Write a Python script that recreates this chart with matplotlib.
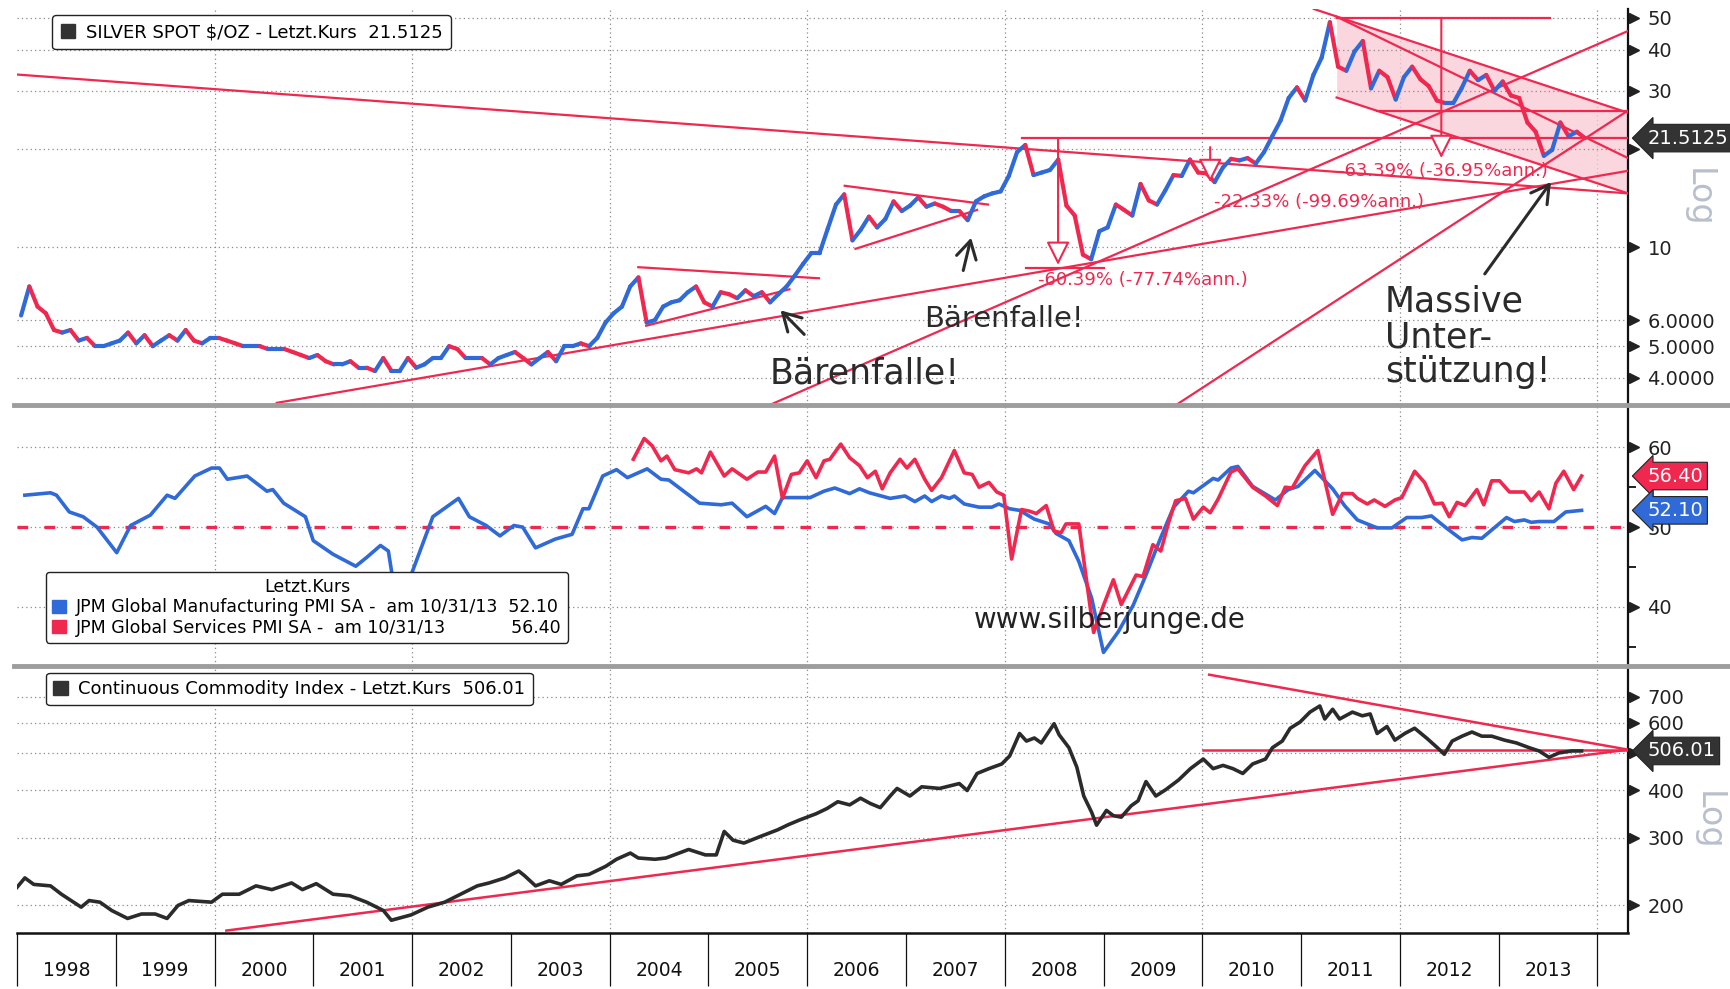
import numpy as np
import matplotlib.pyplot as plt
from matplotlib.collections import LineCollection
from matplotlib.lines import Line2D
from matplotlib.patches import Patch
from matplotlib.ticker import FixedLocator, FixedFormatter, NullLocator

RED = "#f0284f"
BLUE = "#2f6ad8"
DARK = "#2b2b2b"
GRID = "#8a8a8a"
PINK = "#f9c9d3"

# Silber Spot $/oz, Monatswerte 1998-01 .. 2013-11
silver = [
    6.2, 7.6, 6.6, 6.3, 5.6, 5.5, 5.6, 5.2, 5.3, 5.0, 5.0, 5.1,        # 1998
    5.2, 5.5, 5.1, 5.4, 5.0, 5.2, 5.4, 5.2, 5.6, 5.2, 5.1, 5.3,        # 1999
    5.3, 5.2, 5.1, 5.0, 5.0, 5.0, 4.9, 4.9, 4.9, 4.8, 4.7, 4.6,        # 2000
    4.7, 4.5, 4.4, 4.4, 4.5, 4.3, 4.3, 4.2, 4.6, 4.2, 4.2, 4.6,        # 2001
    4.3, 4.4, 4.6, 4.6, 5.0, 4.9, 4.6, 4.6, 4.6, 4.4, 4.6, 4.7,        # 2002
    4.8, 4.6, 4.4, 4.6, 4.8, 4.5, 5.0, 5.0, 5.1, 5.0, 5.3, 5.9,        # 2003
    6.3, 6.6, 7.6, 8.1, 5.9, 6.0, 6.6, 6.8, 6.9, 7.3, 7.6, 6.8,        # 2004
    6.6, 7.3, 7.2, 7.0, 7.4, 7.1, 7.3, 6.8, 7.2, 7.6, 8.2, 8.9,        # 2005
    9.6, 9.6, 11.4, 13.5, 14.5, 10.5, 11.3, 12.4, 11.5, 12.2, 13.8, 12.9,  # 2006
    13.4, 14.2, 13.3, 13.6, 13.3, 12.9, 12.9, 12.1, 13.8, 14.3, 14.6, 14.8,  # 2007
    16.5, 19.5, 20.5, 16.6, 16.9, 17.2, 18.5, 13.4, 12.5, 9.5, 9.2, 11.2,   # 2008
    11.5, 13.5, 13.0, 12.5, 15.6, 13.9, 13.5, 14.9, 16.6, 16.5, 18.5, 16.9,  # 2009
    16.8, 15.8, 17.5, 18.6, 18.4, 18.7, 18.0, 19.5, 21.8, 24.3, 28.5, 30.7,  # 2010
    28.0, 33.5, 37.8, 48.5, 35.5, 34.5, 39.5, 42.5, 30.5, 34.5, 33.0, 28.2,  # 2011
    33.0, 35.5, 32.5, 31.0, 28.0, 27.5, 27.5, 30.5, 34.5, 32.3, 33.5, 30.0,  # 2012
    32.0, 29.0, 28.5, 24.0, 22.5, 19.0, 19.8, 24.0, 21.8, 22.5, 21.5,        # 2013
]

# JPM Global PMI (Jahr, Wert)
mfg_pmi = [
    (1998.08, 54.0), (1998.34, 54.3), (1998.40, 54.0), (1998.53, 51.9), (1998.67, 51.3),
    (1998.81, 50.0), (1999.01, 46.8), (1999.15, 50.2), (1999.35, 51.5), (1999.52, 54.0),
    (1999.60, 53.6), (1999.80, 56.4), (1999.97, 57.4), (2000.05, 57.4), (2000.13, 56.0),
    (2000.33, 56.4), (2000.53, 54.5), (2000.59, 54.7), (2000.70, 53.0), (2000.92, 51.3),
    (2001.00, 48.3), (2001.20, 46.6), (2001.43, 45.1), (2001.54, 46.2), (2001.68, 47.7),
    (2001.76, 47.0), (2001.83, 41.5), (2001.99, 44.0), (2002.21, 51.3), (2002.47, 53.6),
    (2002.58, 51.3), (2002.75, 50.2), (2002.89, 48.9), (2003.03, 50.2), (2003.12, 50.0),
    (2003.25, 47.4), (2003.45, 48.5), (2003.62, 49.1), (2003.73, 52.3), (2003.79, 52.3),
    (2003.93, 56.4), (2004.07, 57.2), (2004.18, 56.2), (2004.38, 57.3), (2004.52, 56.0),
    (2004.60, 55.9), (2004.91, 53.0), (2005.13, 52.8), (2005.24, 53.0), (2005.39, 51.3),
    (2005.58, 52.6), (2005.67, 51.7), (2005.75, 53.7), (2006.03, 53.7), (2006.17, 54.5),
    (2006.28, 54.9), (2006.43, 54.2), (2006.53, 54.8), (2006.63, 54.3), (2006.84, 53.6),
    (2006.99, 53.9), (2007.09, 53.2), (2007.19, 53.9), (2007.26, 53.2), (2007.36, 53.9),
    (2007.44, 53.6), (2007.49, 53.9), (2007.59, 52.9), (2007.74, 52.5), (2007.87, 52.5),
    (2007.94, 52.9), (2008.05, 52.3), (2008.15, 52.1), (2008.30, 51.0), (2008.45, 50.4),
    (2008.52, 49.2), (2008.65, 48.3), (2008.75, 45.7), (2008.88, 41.1), (2009.00, 34.3),
    (2009.15, 36.9), (2009.30, 40.2), (2009.43, 44.0), (2009.58, 48.7), (2009.71, 52.5),
    (2009.86, 54.5), (2009.91, 54.3), (2010.11, 56.1), (2010.16, 55.9), (2010.29, 57.4),
    (2010.36, 57.6), (2010.51, 55.1), (2010.74, 53.4), (2010.87, 54.7), (2010.97, 55.1),
    (2011.14, 57.1), (2011.32, 54.8), (2011.44, 52.7), (2011.57, 50.9), (2011.77, 49.9),
    (2011.92, 49.9), (2012.07, 51.2), (2012.22, 51.2), (2012.32, 51.4), (2012.48, 49.8),
    (2012.63, 48.4), (2012.73, 48.7), (2012.83, 48.6), (2013.08, 51.2), (2013.16, 50.7),
    (2013.26, 50.9), (2013.33, 50.6), (2013.41, 50.7), (2013.56, 50.7), (2013.68, 51.9),
    (2013.84, 52.1),
]

svc_pmi = [
    (2004.24, 58.5), (2004.35, 61.1), (2004.43, 60.2), (2004.52, 58.3), (2004.58, 58.9),
    (2004.66, 57.2), (2004.80, 56.8), (2004.88, 57.3), (2004.93, 56.8), (2005.02, 59.4),
    (2005.16, 56.4), (2005.24, 57.3), (2005.39, 56.0), (2005.50, 56.9), (2005.58, 56.9),
    (2005.67, 58.9), (2005.75, 53.6), (2005.84, 56.6), (2005.92, 56.8), (2006.00, 58.3),
    (2006.09, 56.2), (2006.17, 58.3), (2006.23, 58.5), (2006.34, 60.4), (2006.43, 58.7),
    (2006.53, 57.7), (2006.61, 56.2), (2006.69, 57.0), (2006.76, 54.8), (2006.84, 56.8),
    (2006.94, 58.5), (2007.01, 57.4), (2007.09, 58.5), (2007.19, 56.0), (2007.26, 54.6),
    (2007.36, 56.2), (2007.49, 59.6), (2007.59, 56.8), (2007.67, 56.6), (2007.74, 55.0),
    (2007.84, 55.6), (2007.92, 54.4), (2007.99, 54.0), (2008.07, 46.0), (2008.17, 52.2),
    (2008.25, 52.0), (2008.32, 51.7), (2008.42, 52.7), (2008.50, 49.5), (2008.57, 49.3),
    (2008.62, 50.4), (2008.75, 50.4), (2008.90, 36.8), (2009.00, 40.2), (2009.10, 43.4),
    (2009.18, 40.3), (2009.33, 44.0), (2009.40, 43.8), (2009.50, 47.8), (2009.58, 47.0),
    (2009.66, 50.6), (2009.73, 53.3), (2009.83, 53.6), (2009.91, 51.0), (2010.01, 52.5),
    (2010.08, 51.8), (2010.16, 53.5), (2010.29, 56.9), (2010.36, 57.3), (2010.51, 55.0),
    (2010.64, 53.9), (2010.76, 52.7), (2010.84, 55.0), (2010.91, 54.9), (2011.04, 57.7),
    (2011.17, 59.6), (2011.32, 51.6), (2011.42, 54.2), (2011.52, 54.2), (2011.57, 53.6),
    (2011.67, 52.9), (2011.74, 53.4), (2011.85, 52.6), (2011.95, 53.4), (2012.02, 53.7),
    (2012.15, 57.0), (2012.25, 55.6), (2012.35, 52.9), (2012.43, 53.0), (2012.50, 51.3),
    (2012.58, 53.1), (2012.66, 52.7), (2012.78, 54.7), (2012.85, 52.8), (2012.93, 55.8),
    (2013.01, 55.8), (2013.11, 54.4), (2013.26, 54.4), (2013.33, 53.3), (2013.41, 54.4),
    (2013.51, 52.3), (2013.58, 55.5), (2013.66, 57.0), (2013.76, 54.7), (2013.84, 56.4),
]

# Continuous Commodity Index (Jahr, Wert)
cci = [
    (1998.00, 223), (1998.08, 236), (1998.17, 227), (1998.34, 225), (1998.45, 214),
    (1998.65, 198), (1998.73, 206), (1998.84, 204), (1998.96, 194), (1999.12, 185),
    (1999.26, 190), (1999.40, 190), (1999.52, 185), (1999.63, 200), (1999.74, 206),
    (1999.97, 204), (2000.08, 214), (2000.25, 214), (2000.42, 225), (2000.58, 220),
    (2000.78, 229), (2000.89, 220), (2001.03, 228), (2001.20, 214), (2001.37, 212),
    (2001.54, 204), (2001.71, 194), (2001.79, 183), (2001.99, 189), (2002.16, 198),
    (2002.33, 204), (2002.49, 214), (2002.66, 225), (2002.78, 229), (2002.94, 236),
    (2003.08, 246), (2003.14, 239), (2003.25, 225), (2003.39, 232), (2003.51, 227),
    (2003.67, 239), (2003.79, 241), (2003.96, 253), (2004.07, 264), (2004.21, 274),
    (2004.29, 266), (2004.46, 264), (2004.57, 266), (2004.80, 280), (2004.97, 271),
    (2005.08, 271), (2005.16, 312), (2005.25, 296), (2005.36, 291), (2005.53, 303),
    (2005.70, 315), (2005.81, 325), (2005.92, 334), (2006.09, 347), (2006.20, 358),
    (2006.31, 373), (2006.43, 366), (2006.54, 381), (2006.64, 369), (2006.74, 360),
    (2006.84, 386), (2006.91, 404), (2007.04, 386), (2007.16, 408), (2007.34, 404),
    (2007.54, 416), (2007.62, 399), (2007.72, 442), (2007.84, 455), (2007.97, 468),
    (2008.05, 491), (2008.15, 562), (2008.22, 537), (2008.30, 547), (2008.37, 531),
    (2008.50, 596), (2008.55, 558), (2008.65, 516), (2008.73, 459), (2008.80, 386),
    (2008.88, 350), (2008.93, 324), (2009.03, 354), (2009.10, 343), (2009.18, 340),
    (2009.28, 364), (2009.35, 375), (2009.43, 421), (2009.53, 386), (2009.63, 401),
    (2009.76, 425), (2009.88, 455), (2010.01, 482), (2010.11, 455), (2010.21, 464),
    (2010.31, 455), (2010.41, 442), (2010.51, 468), (2010.64, 482), (2010.71, 516),
    (2010.81, 537), (2010.89, 580), (2010.99, 602), (2011.09, 639), (2011.19, 663),
    (2011.24, 613), (2011.32, 650), (2011.39, 613), (2011.52, 639), (2011.62, 625),
    (2011.70, 632), (2011.77, 562), (2011.87, 586), (2011.95, 540), (2012.05, 562),
    (2012.15, 580), (2012.27, 547), (2012.38, 516), (2012.45, 496), (2012.53, 537),
    (2012.63, 553), (2012.73, 567), (2012.83, 553), (2012.93, 553), (2013.06, 540),
    (2013.18, 531), (2013.31, 516), (2013.41, 506), (2013.51, 487), (2013.61, 500),
    (2013.74, 506), (2013.84, 506),
]

# Trendlinien im Silberchart ((Jahr, Preis), (Jahr, Preis))
silver_trend = [
    ((1998.00, 33.6), (2014.31, 14.6)),
    ((2008.17, 21.5), (2014.31, 21.5)),
    ((2000.63, 3.36), (2014.31, 17.1)),
    ((2005.62, 3.31), (2014.31, 45.6)),
    ((2009.68, 3.23), (2014.31, 26.1)),
    ((2011.13, 53.2), (2014.31, 25.7)),
    ((2011.36, 28.6), (2014.31, 14.6)),
    ((2011.36, 50.4), (2014.31, 18.7)),
    ((2011.36, 50.0), (2013.52, 50.0)),
    ((2011.77, 26.1), (2014.31, 26.1)),
    ((2004.29, 8.70), (2006.12, 8.05)),
    ((2004.37, 5.77), (2005.82, 7.45)),
    ((2006.38, 15.4), (2007.83, 13.5)),
    ((2006.49, 9.90), (2007.72, 13.0)),
    ((2008.22, 8.63), (2009.00, 8.63)),
]
channel_x = [2011.36, 2014.31]
channel_top = [50.5, 25.7]
channel_bottom = [28.6, 14.6]

cci_trend = [
    ((2000.12, 172), (2014.31, 510)),
    ((2010.01, 510), (2014.31, 510)),
    ((2010.07, 800), (2014.31, 510)),
]

years = list(range(1998, 2014))
# 20 und 500 liegen im Original unter den Kursfähnchen
silver_ticks = [4, 5, 6, 10, 20, 30, 40, 50]
silver_ticklabels = ["4.0000", "5.0000", "6.0000", "10", "", "30", "40", "50"]
pmi_ticks = [40, 50, 60]
cci_ticks = [200, 300, 400, 500, 600, 700]
cci_ticklabels = ["200", "300", "400", "", "600", "700"]

XMIN, XMAX = 1998.0, 2014.31


def style_axis(ax, ticks, labels):
    ax.set_xlim(XMIN, XMAX)
    ax.yaxis.tick_right()
    ax.yaxis.set_major_locator(FixedLocator(ticks))
    ax.yaxis.set_major_formatter(FixedFormatter(labels))
    ax.yaxis.set_minor_locator(NullLocator())
    ax.tick_params(axis="y", which="major", length=0, pad=14, labelsize=14, labelcolor="#222")
    ax.tick_params(axis="x", which="both", length=0, labelbottom=False)
    for side in ["left", "top", "bottom"]:
        ax.spines[side].set_visible(False)
    ax.spines["right"].set_color("#111")
    ax.spines["right"].set_linewidth(1.6)
    ax.grid(axis="y", color=GRID, ls=(0, (1, 2.5)), lw=0.9)
    for yr in range(2000, 2015, 2):
        ax.axvline(yr, color=GRID, ls=(0, (1, 2.5)), lw=0.9, zorder=0)
    # kleine Dreiecke als Tickmarken
    ax.plot([1.004] * len(ticks), ticks, transform=ax.get_yaxis_transform(), ls="none",
            marker=">", ms=7, color="#222", clip_on=False)


def value_tag(ax, y, text, fc):
    ax.text(1.012, y, text, transform=ax.get_yaxis_transform(), ha="left", va="center",
            fontsize=14, color="white", zorder=20, clip_on=False,
            bbox=dict(boxstyle="larrow,pad=0.22", fc=fc, ec="#222", lw=0.8))


def box_legend(ax, handles, labels, anchor, size, **kw):
    ax.legend(handles=handles, labels=labels, loc="upper left", bbox_to_anchor=anchor,
              borderaxespad=0, fontsize=size, handlelength=0.8, handleheight=0.8,
              handletextpad=0.6, frameon=True, fancybox=True, edgecolor="#222",
              framealpha=1, **kw)


fig = plt.figure(figsize=(17.31, 9.89), dpi=100)
L, W = 0.0098, 0.9307
ax1 = fig.add_axes([L, 0.5905, W, 0.4004])
ax2 = fig.add_axes([L, 0.3266, W, 0.2639])
ax3 = fig.add_axes([L, 0.0566, W, 0.2700])

# --- Silber ---
ax1.set_yscale("log")
ax1.set_ylim(3.31, 53.2)
style_axis(ax1, silver_ticks, silver_ticklabels)
silver_t = 1998 + (np.arange(len(silver)) + 0.5) / 12
pts = np.column_stack([silver_t, silver])
segs = np.stack([pts[:-1], pts[1:]], axis=1)
cols = [BLUE if b >= a else RED for a, b in zip(silver[:-1], silver[1:])]
ax1.add_collection(LineCollection(segs, colors=cols, linewidths=3.0, capstyle="round", zorder=4))

ax1.fill_between(channel_x, channel_bottom, channel_top, color=PINK, alpha=0.75, lw=0, zorder=1)
for (x0, y0), (x1, y1) in silver_trend:
    ax1.plot([x0, x1], [y0, y1], color=RED, lw=1.6, zorder=3)

meas = dict(arrowstyle="-|>,head_length=0.9,head_width=0.45", fc="white", ec=RED, lw=1.5,
            mutation_scale=16, shrinkA=0, shrinkB=0)
ax1.annotate("", xy=(2008.54, 8.84), xytext=(2008.54, 21.5), arrowprops=meas, zorder=5)
ax1.annotate("", xy=(2010.08, 15.8), xytext=(2010.08, 20.2), arrowprops=meas, zorder=5)
ax1.annotate("", xy=(2012.42, 18.7), xytext=(2012.42, 50.0), arrowprops=meas, zorder=5)

ax1.text(2008.34, 7.93, "-60.39% (-77.74%ann.)", color=RED, fontsize=13, va="center", zorder=6)
ax1.text(2010.12, 13.7, "-22.33% (-99.69%ann.)", color=RED, fontsize=13, va="center", zorder=6)
ax1.text(2011.37, 17.1, "-63.39% (-36.95%ann.)", color=RED, fontsize=13, va="center", zorder=6)

black_arrow = dict(arrowstyle="->,head_length=0.7,head_width=0.4", color=DARK, lw=2.2,
                   mutation_scale=18, shrinkA=0, shrinkB=0)
ax1.annotate("", xy=(2005.73, 6.43), xytext=(2005.97, 5.43), arrowprops=black_arrow)
ax1.annotate("", xy=(2007.66, 10.7), xytext=(2007.58, 8.5), arrowprops=black_arrow)
ax1.annotate("", xy=(2013.53, 15.8), xytext=(2012.86, 8.3), arrowprops=black_arrow)
ax1.text(2005.62, 4.14, "Bärenfalle!", fontsize=25, color=DARK, va="center", zorder=6)
ax1.text(2007.18, 6.05, "Bärenfalle!", fontsize=21, color=DARK, va="center", zorder=6)
ax1.text(2011.85, 7.69, "Massive\nUnter-\nstützung!", fontsize=25, color=DARK, va="top",
         linespacing=1.05, zorder=6)

box_legend(ax1, [Patch(fc="#333", ec="#333")], ["SILVER SPOT $/OZ - Letzt.Kurs  21.5125"],
           (0.022, 0.985), 13, borderpad=0.45)
value_tag(ax1, 21.5125, "21.5125", "#333333")

# --- PMI ---
ax2.set_ylim(32.6, 65.3)
style_axis(ax2, pmi_ticks, [str(t) for t in pmi_ticks])
ax2.yaxis.set_minor_locator(FixedLocator([35, 45, 55]))
ax2.tick_params(axis="y", which="minor", length=6, width=1.4, color="#222", direction="out")
ax2.axhline(50, color=RED, lw=2.4, ls=(0, (3.2, 4.9)), zorder=2)
mx, my = zip(*mfg_pmi)
sx, sy = zip(*svc_pmi)
ax2.plot(mx, my, color=BLUE, lw=2.6, zorder=4)
ax2.plot(sx, sy, color=RED, lw=2.6, zorder=4)
ax2.text(2009.06, 38.4, "www.silberjunge.de", fontsize=20, color="#222", ha="center",
         va="center", zorder=6)
box_legend(ax2, [Patch(fc=BLUE, ec=BLUE), Patch(fc=RED, ec=RED)],
           ["JPM Global Manufacturing PMI SA -  am 10/31/13  52.10",
            "JPM Global Services PMI SA -  am 10/31/13            56.40"],
           (0.018, 0.362), 12.5, title="Letzt.Kurs", title_fontsize=12.5,
           borderpad=0.35, labelspacing=0.15)
value_tag(ax2, 56.4, "56.40", RED)
value_tag(ax2, 52.1, "52.10", BLUE)

# --- Commodity Index ---
ax3.set_yscale("log")
ax3.set_ylim(169.5, 843)
style_axis(ax3, cci_ticks, cci_ticklabels)
cx, cy = zip(*cci)
ax3.plot(cx, cy, color=DARK, lw=2.6, zorder=4)
for (x0, y0), (x1, y1) in cci_trend:
    ax3.plot([x0, x1], [y0, y1], color=RED, lw=1.8, zorder=3)
box_legend(ax3, [Patch(fc="#333", ec="#333")],
           ["Continuous Commodity Index - Letzt.Kurs  506.01"], (0.018, 0.975), 13,
           borderpad=0.4)
value_tag(ax3, 506.01, "506.01", "#333333")

# Jahresachse
ax3.spines["bottom"].set_visible(True)
ax3.spines["bottom"].set_color("#111")
ax3.spines["bottom"].set_linewidth(1.8)
ax3.set_xticks(list(range(1998, 2015)))
ax3.set_xticks([y + 0.5 for y in years], minor=True)
ax3.set_xticklabels([])
ax3.set_xticklabels([str(y) for y in years], minor=True)
ax3.tick_params(axis="x", which="major", length=38, width=0.9, color="#111", direction="out")
ax3.tick_params(axis="x", which="minor", length=0, pad=20, labelsize=13.5,
                labelbottom=True, labelcolor="#111")

# Trennlinien zwischen den Panels und Log-Hinweise
for yf in [0.5905, 0.3266]:
    fig.add_artist(Line2D([0.008, 0.998], [yf, yf], color="#9d9d9d", lw=3.5))
fig.text(0.981, 0.80, "Log", rotation=-90, fontsize=24, color="#b9bfcc", ha="center", va="center")
fig.text(0.987, 0.17, "Log", rotation=-90, fontsize=24, color="#b9bfcc", ha="center", va="center")

fig.savefig("out.png", dpi=100, facecolor="white")
